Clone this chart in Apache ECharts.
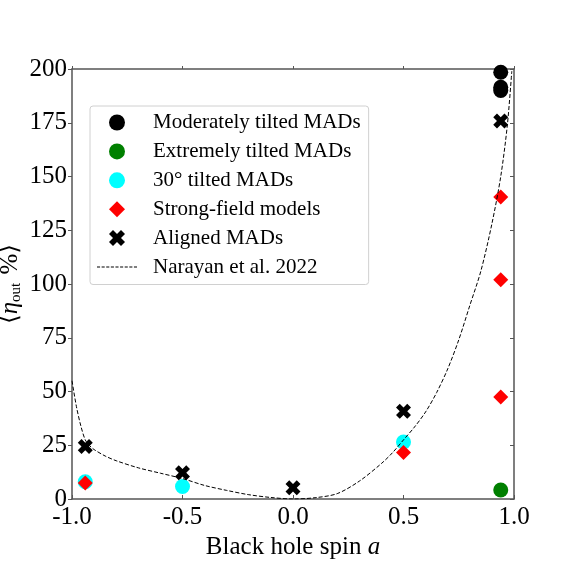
<!DOCTYPE html>
<html>
<head>
<meta charset="utf-8">
<script src="https://cdn.jsdelivr.net/npm/echarts@6/dist/echarts.min.js"></script>
<style>
    html, body { margin: 0; padding: 0; background: #fff; }
    #chart { width: 571px; height: 571px; }
</style>
</head>
<body>
<div id="chart"></div>
<script>
    // values
    var moderateTilt = [[0.94, 198.5], [0.94, 191.5], [0.94, 190]];
    var extremeTilt = [[0.94, 4.2]];
    var tilt30 = [[-0.94, 8], [-0.5, 5.8], [0.5, 26.5]];
    var strongField = [[-0.94, 7.4], [0.5, 21.6], [0.94, 47.4], [0.94, 102], [0.94, 140.5]];
    var aligned = [[-0.94, 24.4], [-0.5, 12.2], [0.0, 5.2], [0.5, 40.8], [0.94, 175.8]];
    var narayanA = [-1, -0.98, -0.96, -0.94, -0.92, -0.9, -0.85, -0.8, -0.7, -0.6, -0.5, -0.4, -0.3, -0.2, -0.1, 0,
        0.1, 0.2, 0.3, 0.4, 0.45, 0.5, 0.55, 0.6, 0.65, 0.7, 0.75, 0.8, 0.85, 0.9, 0.94, 0.97, 0.99];
    var narayanEta = [55, 43, 34, 27.5, 24.8, 23, 20, 17.8, 14.5, 12, 9.5, 6.3, 4, 2, 0.7, 0,
        0.6, 2.5, 8.3, 16.5, 21.5, 27.5, 33.5, 40.5, 49.5, 60.5, 74, 90, 106, 128, 150, 174, 199];

    var serif = '"Liberation Serif", "DejaVu Serif", serif';
    var frame = '#555';
    var xPath = 'path://M0,2.5 L2.5,0 L5,2.5 L7.5,0 L10,2.5 L7.5,5 L10,7.5 L7.5,10 L5,7.5 L2.5,10 L0,7.5 L2.5,5 Z';
    var diamondPath = 'path://M5,0 L10,5 L5,10 L0,5 Z';

    // dashed legend sample for the fit curve
    var dashPath = 'path://';
    for (var d = 0; d < 9; d++) {
        dashPath += 'M' + (d * 4.5) + ',0 h3 v1 h-3 Z ';
    }

    var narayan = narayanA.map(function (a, i) { return [a, narayanEta[i]]; });

    var chart = echarts.init(document.getElementById('chart'));

    var option = {
        backgroundColor: '#fff',
        animation: false,
        grid: { left: 72, right: 57, top: 69, bottom: 72, outerBoundsMode: 'none', containLabel: false },
        legend: {
            orient: 'vertical',
            left: 90,
            top: 106,
            padding: [6, 8, 7, 7],
            itemWidth: 40,
            itemHeight: 16,
            itemGap: 7.9,
            borderColor: '#d0d0d0',
            borderWidth: 1,
            borderRadius: 3,
            backgroundColor: 'rgba(255,255,255,0.85)',
            textStyle: { fontFamily: serif, fontSize: 21, color: '#000', lineHeight: 20, padding: [0, 0, 0, 11] },
            data: [
                { name: 'Moderately tilted MADs', icon: 'circle' },
                { name: 'Extremely tilted MADs', icon: 'circle' },
                { name: '30° tilted MADs', icon: 'circle' },
                { name: 'Strong-field models', icon: diamondPath },
                { name: 'Aligned MADs', icon: xPath },
                { name: 'Narayan et al. 2022', icon: dashPath, itemStyle: { color: '#000' } }
            ]
        },
        xAxis: [{
            type: 'value', min: -1, max: 1, interval: 0.5,
            name: 'Black hole spin {i|a}',
            nameLocation: 'middle', nameGap: 29,
            nameTextStyle: { fontFamily: serif, fontSize: 25, color: '#000',
                rich: { i: { fontFamily: serif, fontSize: 25, fontStyle: 'italic' } } },
            axisLine: { onZero: false, lineStyle: { color: frame, width: 1.5 } },
            axisTick: { inside: true, length: 4, lineStyle: { color: frame } },
            splitLine: { show: false },
            axisLabel: { fontFamily: serif, fontSize: 25, color: '#000', margin: 6,
                formatter: function (v) { return v.toFixed(1); } }
        }, {
            type: 'value', min: -1, max: 1, interval: 0.5, position: 'top',
            axisLine: { onZero: false, lineStyle: { color: frame, width: 1.5 } },
            axisTick: { length: 3, lineStyle: { color: frame } },
            axisLabel: { show: false }, splitLine: { show: false }
        }],
        yAxis: [{
            type: 'value', min: 0, max: 200, interval: 25,
            name: '⟨{e|η}{s|out} %⟩',
            nameLocation: 'middle', nameGap: 48, nameRotate: 90, nameMoveOverlap: false,
            nameTextStyle: { fontFamily: serif, fontSize: 25, color: '#000',
                rich: {
                    e: { fontFamily: serif, fontSize: 25, fontStyle: 'italic' },
                    s: { fontFamily: serif, fontSize: 15, verticalAlign: 'bottom', padding: [12, 2, 0, 0] }
                } },
            axisLine: { onZero: false, lineStyle: { color: frame, width: 1.5 } },
            axisTick: { length: 4, lineStyle: { color: frame } },
            splitLine: { show: false },
            axisLabel: { fontFamily: serif, fontSize: 25, color: '#000', margin: 5 }
        }, {
            type: 'value', min: 0, max: 200, interval: 25, position: 'right',
            axisLine: { onZero: false, lineStyle: { color: frame, width: 1.5 } },
            axisTick: { inside: true, length: 4, lineStyle: { color: frame } },
            axisLabel: { show: false }, splitLine: { show: false }
        }],
        series: [{
            name: 'Moderately tilted MADs', type: 'scatter', symbol: 'circle', symbolSize: 15,
            itemStyle: { color: '#000', opacity: 1 }, data: moderateTilt, z: 3
        }, {
            name: 'Extremely tilted MADs', type: 'scatter', symbol: 'circle', symbolSize: 15,
            itemStyle: { color: '#008000', opacity: 1 }, data: extremeTilt, z: 3
        }, {
            name: '30° tilted MADs', type: 'scatter', symbol: 'circle', symbolSize: 15,
            itemStyle: { color: '#00ffff', opacity: 1 }, data: tilt30, z: 3
        }, {
            name: 'Strong-field models', type: 'scatter', symbol: diamondPath, symbolSize: 15,
            itemStyle: { color: '#ff0000', opacity: 1 }, data: strongField, z: 4
        }, {
            name: 'Aligned MADs', type: 'scatter', symbol: xPath, symbolSize: 15,
            itemStyle: { color: '#000', opacity: 1 }, data: aligned, z: 5
        }, {
            name: 'Narayan et al. 2022', type: 'line', showSymbol: false, symbol: 'none',
            smooth: 0.3,
            lineStyle: { color: '#000', width: 1, type: [4, 2] },
            itemStyle: { color: '#000' },
            data: narayan, z: 6
        }]
    };

    chart.setOption(option);
</script>
</body>
</html>
